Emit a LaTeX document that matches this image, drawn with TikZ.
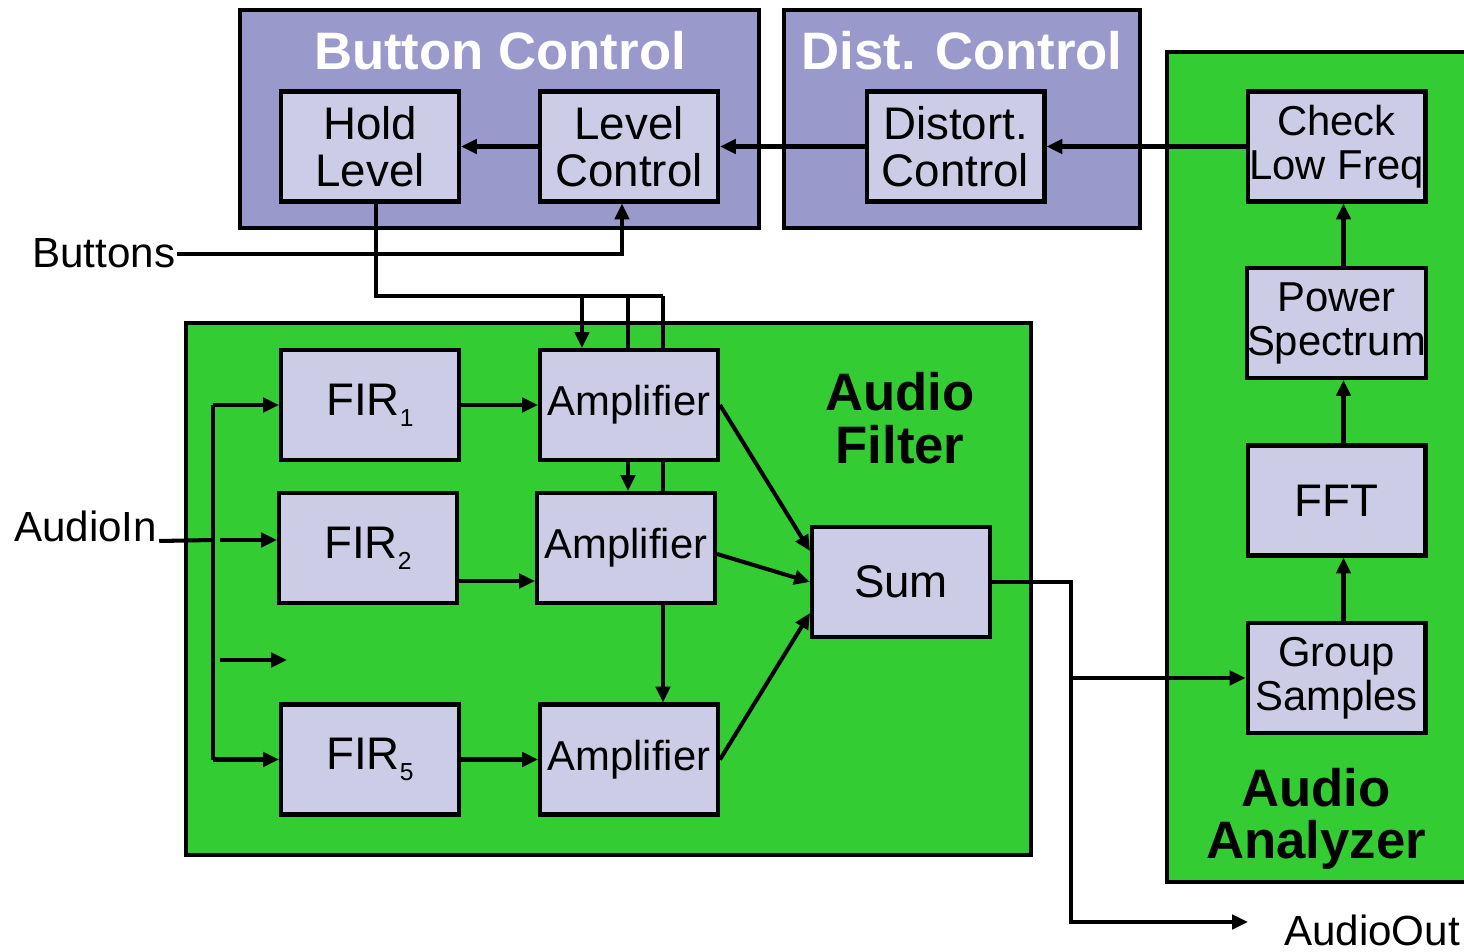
\documentclass[tikz,border=0pt]{standalone}
\usepackage{fontspec}
\setmainfont{Liberation Sans}
\usetikzlibrary{arrows.meta}
\pgfdeclarelayer{back}
\pgfdeclarelayer{wires}
\pgfsetlayers{back,wires,main}
\definecolor{ctrlpurple}{RGB}{153,153,204}
\definecolor{boxfill}{RGB}{204,204,230}
\definecolor{fgreen}{RGB}{51,204,51}
\newcommand\firsub[1]{\raisebox{-0.45ex}{\fontsize{14}{14}\selectfont #1}}
\begin{document}
\begin{tikzpicture}[x=0.02cm,y=-0.02cm,
  blk/.style={draw=black, line width=2.3pt, fill=boxfill, minimum width=3.56cm, minimum height=2.2cm, inner sep=0pt, align=center, font=\fontsize{26}{27}\selectfont},
  blks/.style={blk, font=\fontsize{23.8}{25}\selectfont},
  grpbox/.style={draw=black, line width=2.3pt},
  wire/.style={line width=2.3pt, line join=miter},
  arr/.style={wire, -{Triangle[length=9pt,width=8pt]}},
  lbl/.style={font=\fontsize{24}{26}\selectfont, inner sep=1pt},
  ttl/.style={font=\fontsize{30}{30}\bfseries\selectfont, align=center},
]
\clip (0,0) rectangle (1464,952);
\useasboundingbox (0,0) rectangle (1464,952);

% group boxes
\begin{pgfonlayer}{back}
\fill[white] (0,0) rectangle (1464,952);
\draw[grpbox, fill=ctrlpurple] (240,10) rectangle (759,228);
\draw[grpbox, fill=ctrlpurple] (784,10) rectangle (1140,228);
\draw[grpbox, fill=fgreen] (1167,52) rectangle (1490,882);
\draw[grpbox, fill=fgreen] (186,323) rectangle (1031,855);
\end{pgfonlayer}

% titles
\node[ttl, text=white, anchor=base] (tbc) at (500,70) {Button Control};
\node[ttl, text=white, anchor=base] (tdc) at (962,70) {Dist. Control};
\node[ttl] (taf) at (900,418) {Audio\\Filter};
\node[ttl] (taa) at (1316,819) {Audio\\Analyzer};

% blocks
\node[blk] (hold) at (370,146.5) {Hold\\Level};
\node[blk] (level) at (629,146.5) {Level\\Control};
\node[blk] (dist) at (955.5,146.5) {Distort.\\Control};
\node[blks] (check) at (1336.5,146.5) {Check\\Low Freq};
\node[blks] (power) at (1336.5,323) {Power\\Spectrum};
\node[blk] (fft) at (1336.5,500.5) {FFT};
\node[blks] (group) at (1336.5,678) {Group\\Samples};
\node[blk] (fir1) at (370,405) {FIR\firsub{1}};
\node[blk] (fir2) at (368,548) {FIR\firsub{2}};
\node[blk] (fir5) at (370,759.5) {FIR\firsub{5}};
\node[blks] (amp1) at (629,405) {Amplifier};
\node[blks] (amp2) at (626,548) {Amplifier};
\node[blks] (amp3) at (629,759.5) {Amplifier};
\node[blk] (sum) at (901,582) {Sum};

% outside labels
\node[lbl, anchor=base west] (btn) at (30,268) {Buttons};
\node[lbl, anchor=base west] (ain) at (12,541) {AudioIn};
\node[lbl, anchor=base west] (aout) at (1282,945) {AudioOut};

% coordinates
\coordinate (t1) at (582,296);
\coordinate (t2) at (628,296);
\coordinate (t3) at (663,296);
\coordinate (bt) at (213,405);
\coordinate (bm) at (213,540);
\coordinate (bb) at (213,759.5);
\coordinate (a2s) at (220,540);
\coordinate (a3s) at (220,660);
\coordinate (a3e) at (287,660);
\coordinate (jx) at (1071,922);
\coordinate (ao) at (1248,922);

\begin{pgfonlayer}{wires}
% control chain
\draw[arr] (check.west) -- (dist.east);
\draw[arr] (dist.west) -- (level.east);
\draw[arr] (level.west) -- (hold.east);
\draw[arr] (btn.east) -| ([xshift=-0.14cm]level.south);
\draw[wire] ([xshift=0.12cm]hold.south) |- (t3);
\draw[arr] (t1) -- (t1 |- amp1.north);
\draw[arr] (t2) -- (t2 |- amp2.north);
\draw[arr] (t3) -- (t3 |- amp3.north);
% audio in
\draw[wire] (ain.base east) -- (bm);
\draw[wire] (bt) -- (bb);
\draw[arr] (bt) -- (fir1.west);
\draw[arr] (a2s) -- (a2s -| fir2.west);
\draw[arr] (a3s) -- (a3e);
\draw[arr] (bb) -- (fir5.west);
% fir to amp
\draw[arr] (fir1.east) -- (amp1.west);
\draw[arr] ([yshift=-0.66cm]fir2.east) -- ([yshift=-0.66cm]amp2.west);
\draw[arr] (fir5.east) -- (amp3.west);
% amp to sum
\draw[arr] (amp1.east) -- ([yshift=0.62cm]sum.west);
\draw[arr] ([yshift=-0.12cm]amp2.east) -- (sum.west);
\draw[arr] (amp3.east) -- ([yshift=-0.62cm]sum.west);
% sum out
\draw[arr] (sum.east) -| (jx) -- (ao);
\draw[arr] (jx |- group.west) -- (group.west);
% analyzer chain
\draw[arr] ([xshift=0.14cm]group.north) -- ([xshift=0.14cm]fft.south);
\draw[arr] ([xshift=0.14cm]fft.north) -- ([xshift=0.14cm]power.south);
\draw[arr] ([xshift=0.14cm]power.north) -- ([xshift=0.14cm]check.south);
\end{pgfonlayer}
\end{tikzpicture}
\end{document}
